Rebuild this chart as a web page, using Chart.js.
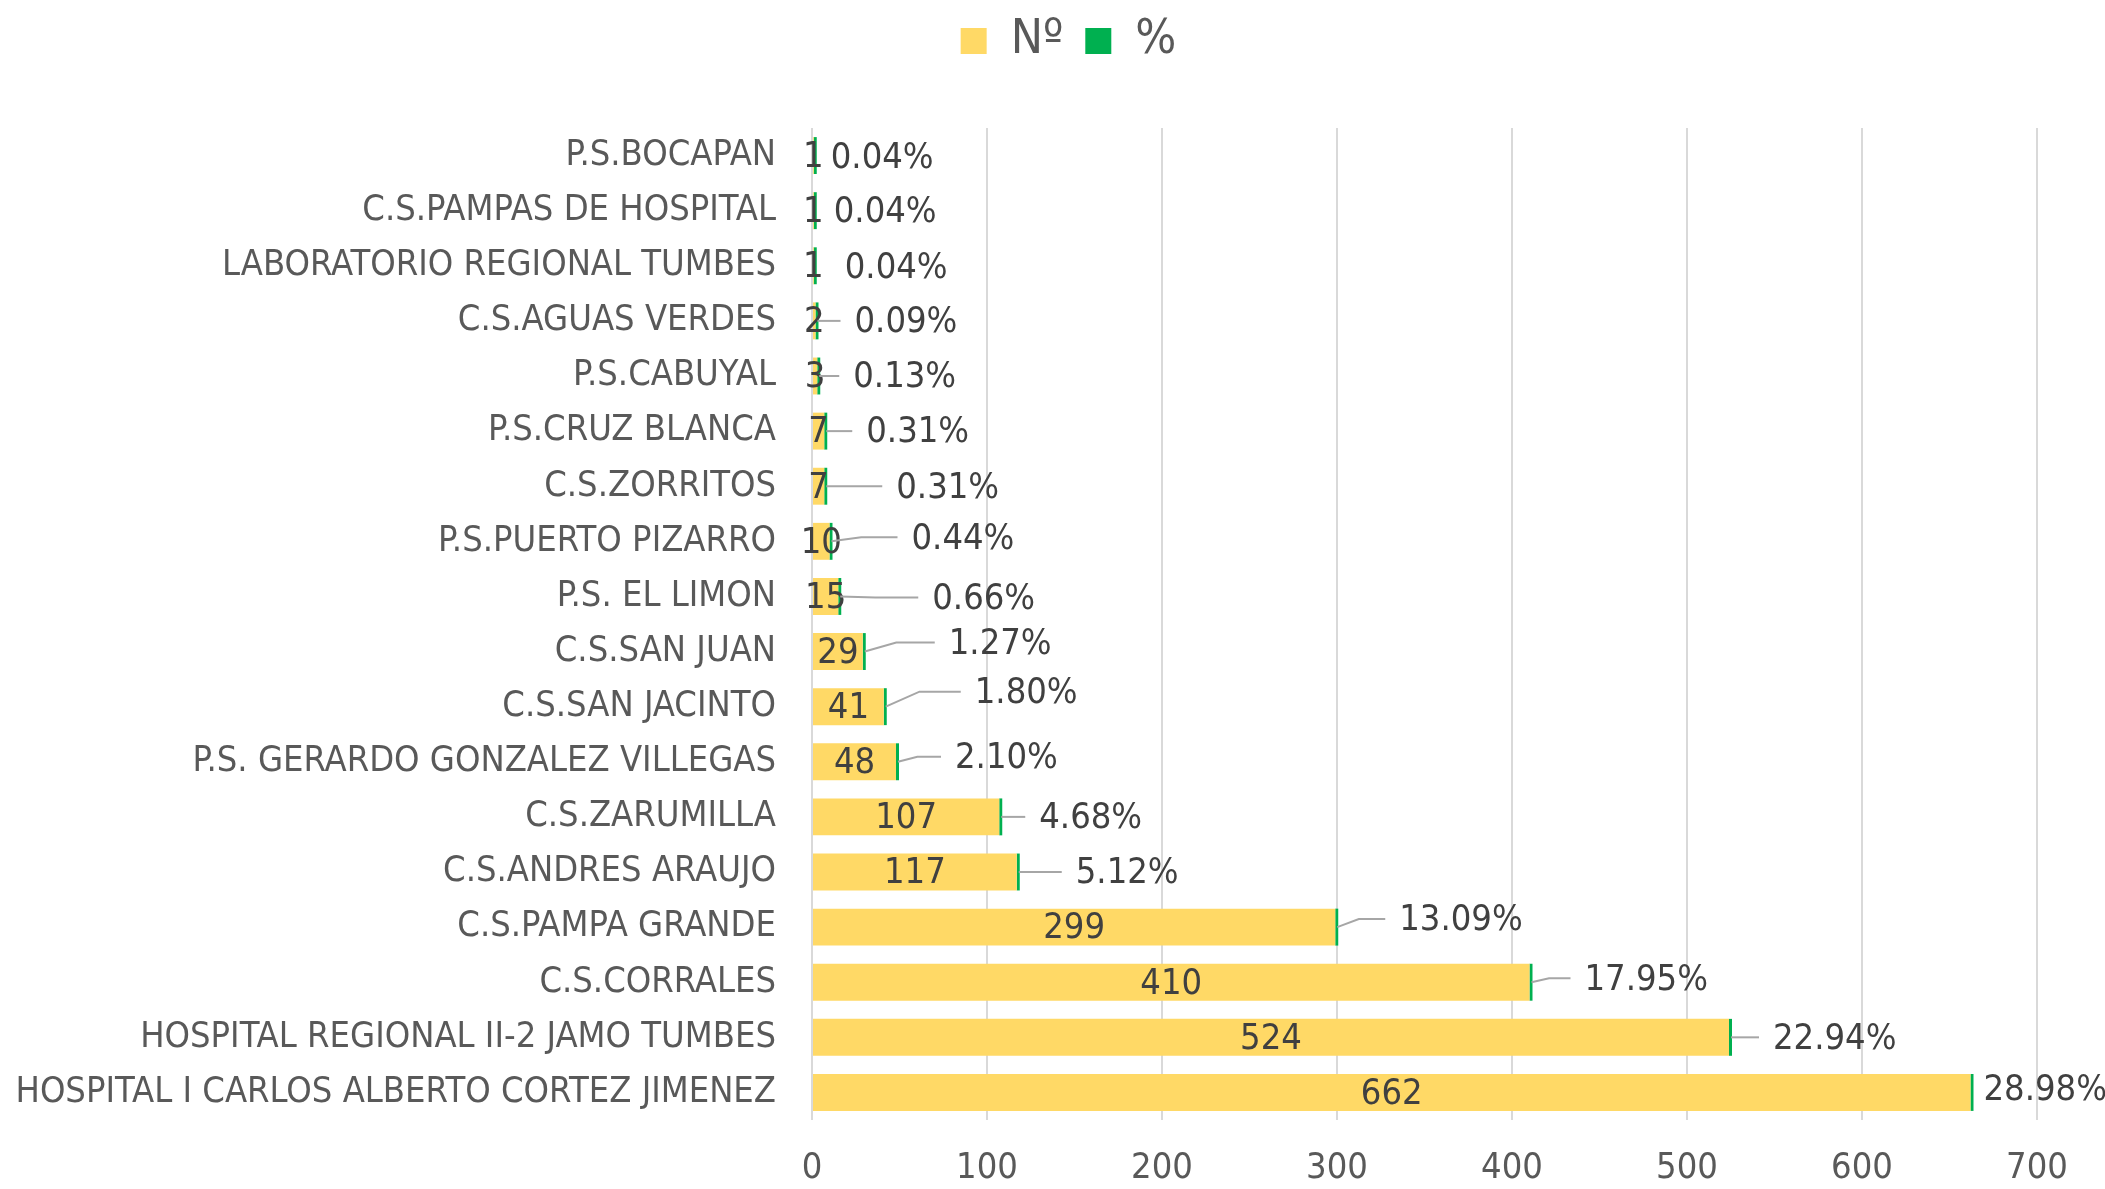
<!DOCTYPE html>
<html>
<head>
<meta charset="utf-8">
<script src="https://cdn.jsdelivr.net/npm/chart.js@4.4.1/dist/chart.umd.min.js"></script>
<style>
  html, body { margin: 0; padding: 0; background: #fff; }
</style>
</head>
<body>
<canvas id="chart" width="2105" height="1189"></canvas>
<script>
// ---------- DATA ----------
const categories = [
    "P.S.BOCAPAN",
    "C.S.PAMPAS DE HOSPITAL",
    "LABORATORIO REGIONAL TUMBES",
    "C.S.AGUAS VERDES",
    "P.S.CABUYAL",
    "P.S.CRUZ BLANCA",
    "C.S.ZORRITOS",
    "P.S.PUERTO PIZARRO",
    "P.S. EL LIMON",
    "C.S.SAN JUAN",
    "C.S.SAN JACINTO",
    "P.S. GERARDO GONZALEZ VILLEGAS",
    "C.S.ZARUMILLA",
    "C.S.ANDRES ARAUJO",
    "C.S.PAMPA GRANDE",
    "C.S.CORRALES",
    "HOSPITAL REGIONAL II-2 JAMO TUMBES",
    "HOSPITAL I CARLOS ALBERTO CORTEZ JIMENEZ"
];
const counts = [1, 1, 1, 2, 3, 7, 7, 10, 15, 29, 41, 48, 107, 117, 299, 410, 524, 662];
const percents = [0.04, 0.04, 0.04, 0.09, 0.13, 0.31, 0.31, 0.44, 0.66, 1.27, 1.80, 2.10, 4.68, 5.12, 13.09, 17.95, 22.94, 28.98];
const xTicks = [0, 100, 200, 300, 400, 500, 600, 700];

// label placement (px) for the % labels, as dragged in the original
const pctGap  = [17, 20, 31, 39, 36, 42, 72, 82, 94, 86, 91, 59, 40, 59, 64, 55, 44, 13];
const pctRise = [1, 0, 1, 0, 0, 0, 0, -4, 1, -9, -15, -5, 0, 0, -8, -4, 0, -4];

const FONT = "'Liberation Sans Narrow', 'DejaVu Sans Condensed', sans-serif";
const GREY = "#595959";

// ---------- Plugin: value labels + % labels with leader lines ----------
const barLabels = {
    id: "barLabels",
    afterDatasetsDraw(chart) {
        const ctx = chart.ctx;
        const countMeta = chart.getDatasetMeta(0);
        ctx.save();
        ctx.font = "36px " + FONT;
        ctx.fillStyle = "#404040";
        ctx.textBaseline = "middle";

        countMeta.data.forEach((bar, i) => {
            ctx.textAlign = "center";
            ctx.fillText(String(counts[i]), (bar.base + bar.x) / 2, bar.y + 2);
        });

        countMeta.data.forEach((bar, i) => {
            const end = bar.x;
            const lx = end + pctGap[i];
            const ly = bar.y + pctRise[i];
            if (pctGap[i] > 35) {
                ctx.strokeStyle = "#a6a6a6";
                ctx.lineWidth = 2;
                ctx.beginPath();
                ctx.moveTo(end + 2, bar.y);
                if (pctRise[i] !== 0) {
                    ctx.lineTo(end + 2 + (pctGap[i] - 16) * 0.45, ly);
                }
                ctx.lineTo(lx - 14, ly);
                ctx.stroke();
            }
            ctx.textAlign = "left";
            ctx.fillStyle = "#404040";
            ctx.fillText(percents[i].toFixed(2) + "%", lx, ly + 2);
        });
        ctx.restore();
    }
};

// Legend: fixed height band above the plot, nudged to where Excel put it
const legendTweak = {
    id: "legendTweak",
    beforeInit(chart) {
        const legend = chart.legend;
        const fit = legend.fit;
        legend.fit = function () {
            fit.call(this);
            this.height = 128;
        };
        const draw = legend.draw;
        legend.draw = function () {
            const c = this.ctx;
            c.save();
            c.translate(50, -5);
            draw.call(this);
            c.restore();
        };
    }
};

const ctx = document.getElementById("chart").getContext("2d");

new Chart(ctx, {
    type: "bar",
    data: {
        labels: categories,
        datasets: [
            {
                label: "Nº",
                data: counts,
                backgroundColor: "#FFD966",
                borderWidth: 0,
                barPercentage: 0.67,
                categoryPercentage: 1
            },
            {
                label: "%",
                data: percents.map(p => p / 100),
                backgroundColor: "#00B050",
                borderWidth: 0,
                minBarLength: 3,
                barPercentage: 0.67,
                categoryPercentage: 1
            }
        ]
    },
    options: {
        indexAxis: "y",
        responsive: false,
        animation: false,
        layout: { padding: { top: 0, right: 68, left: 0, bottom: 0 } },
        scales: {
            x: {
                stacked: true,
                min: 0,
                max: 700,
                afterBuildTicks(scale) {
                    scale.ticks = xTicks.map(v => ({ value: v }));
                },
                ticks: {
                    font: { family: FONT, size: 36 },
                    color: GREY,
                    padding: 27
                },
                grid: { color: "#d9d9d9", lineWidth: 2, drawTicks: false },
                border: { display: false },
                afterFit(scale) { scale.height = 69; }
            },
            y: {
                stacked: true,
                ticks: {
                    font: { family: FONT, size: 36 },
                    color: GREY,
                    padding: 36
                },
                grid: { display: false, drawTicks: false },
                border: { display: false },
                afterFit(scale) { scale.width = 812; }
            }
        },
        plugins: {
            legend: {
                position: "top",
                labels: {
                    boxWidth: 26,
                    boxHeight: 26,
                    padding: 22,
                    color: GREY,
                    font: { family: FONT, size: 48 }
                }
            },
            tooltip: { enabled: false }
        }
    },
    plugins: [barLabels, legendTweak]
});
</script>
</body>
</html>
